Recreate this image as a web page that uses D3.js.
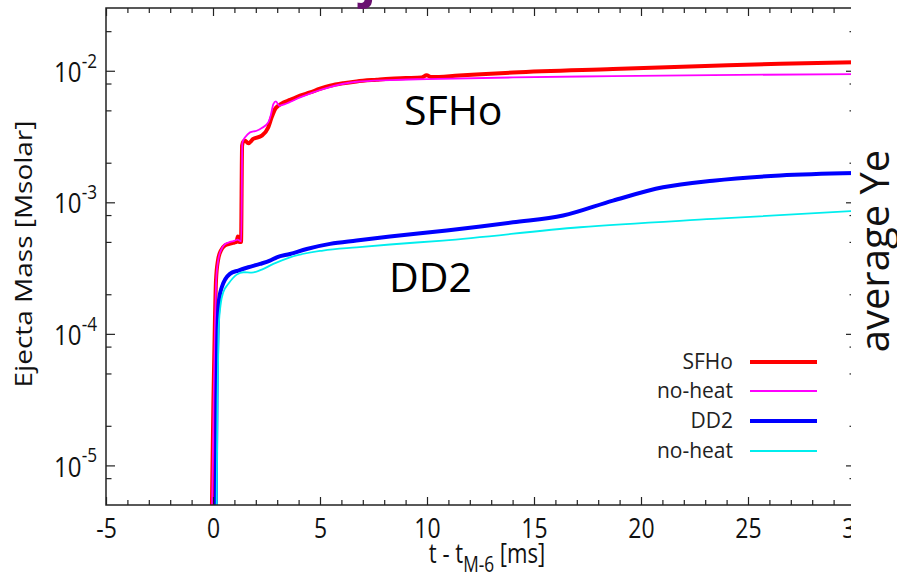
<!DOCTYPE html>
<html>
<head>
<meta charset="utf-8">
<script src="https://cdn.jsdelivr.net/npm/d3@7"></script>
<style>
  body { margin: 0; background: #fff; }
  svg { display: block; }
  text { font-family: "Open Sans", "Noto Sans", sans-serif; }
</style>
</head>
<body>
<svg id="chart" width="897" height="580"></svg>
<script>
// Ejecta mass histories (time in ms after t_M-6, mass in solar masses)
const sfhoTime = [-0.1, -0.05, 0.02, 0.09, 0.14, 0.23, 0.37, 0.56, 0.8, 1.0, 1.1, 1.16, 1.22, 1.31, 1.36, 1.42, 1.5, 1.65, 1.88, 2.28, 2.58, 2.74, 2.9, 3.05, 3.29, 3.6, 4.07, 4.53, 5.0, 5.47, 6.09, 6.71, 7.65, 8.27, 9.0, 9.75, 9.98, 10.2, 11.5, 14.02, 18.69, 23.36, 26.5, 30];
const sfhoMass = [2e-6, 5e-6, 3.1e-5, 1.26e-4, 2.55e-4, 3.6e-4, 4.3e-4, 4.7e-4, 4.85e-4, 4.95e-4, 5.0e-4, 5.5e-4, 5.0e-4, 5.0e-4, 2.7e-3, 2.9e-3, 2.94e-3, 2.81e-3, 3.03e-3, 3.21e-3, 3.71e-3, 4.42e-3, 5.11e-3, 5.42e-3, 5.74e-3, 6.0e-3, 6.46e-3, 6.84e-3, 7.3e-3, 7.7e-3, 8.05e-3, 8.3e-3, 8.55e-3, 8.7e-3, 8.8e-3, 8.9e-3, 9.25e-3, 8.95e-3, 9.2e-3, 9.7e-3, 1.03e-2, 1.09e-2, 1.13e-2, 1.16e-2];

const sfhoNoHeatTime = [-0.1, -0.04, 0.03, 0.1, 0.15, 0.24, 0.38, 0.56, 0.8, 1.0, 1.15, 1.25, 1.32, 1.37, 1.43, 1.5, 1.73, 2.04, 2.28, 2.58, 2.7, 2.82, 2.94, 3.1, 3.36, 4.07, 5.14, 6.71, 8.27, 10.0, 14.02, 18.69, 23.36, 30];
const sfhoNoHeatMass = [2e-6, 5e-6, 3.1e-5, 1.26e-4, 2.55e-4, 3.6e-4, 4.35e-4, 4.8e-4, 5.0e-4, 5.1e-4, 5.2e-4, 5.1e-4, 5.05e-4, 2.8e-3, 3.0e-3, 3.12e-3, 3.4e-3, 3.5e-3, 3.67e-3, 4.05e-3, 4.6e-3, 5.58e-3, 5.85e-3, 5.42e-3, 5.58e-3, 6.27e-3, 7.26e-3, 8.25e-3, 8.5e-3, 8.65e-3, 8.9e-3, 9.1e-3, 9.27e-3, 9.44e-3];

const dd2Time = [0.08, 0.126, 0.16, 0.21, 0.28, 0.41, 0.79, 1.18, 1.65, 2.2, 2.66, 2.98, 3.6, 4.38, 5.47, 6.71, 8.27, 10.92, 12.5, 14.02, 16.36, 18.69, 21.03, 23.36, 26.5, 30];
const dd2Mass = [2e-6, 5e-6, 3.1e-5, 1.06e-4, 1.8e-4, 2.26e-4, 2.86e-4, 3.03e-4, 3.21e-4, 3.4e-4, 3.6e-4, 3.82e-4, 4.05e-4, 4.42e-4, 4.83e-4, 5.12e-4, 5.49e-4, 6.1e-4, 6.55e-4, 7.05e-4, 7.93e-4, 1.03e-3, 1.3e-3, 1.46e-3, 1.6e-3, 1.67e-3];

const dd2NoHeatTime = [0.12, 0.17, 0.21, 0.26, 0.35, 0.48, 0.72, 1.11, 1.42, 1.81, 2.28, 2.82, 3.6, 5.14, 6.71, 8.27, 10.75, 17.15, 23.36, 30];
const dd2NoHeatMass = [2e-6, 5e-6, 3.1e-5, 1.06e-4, 1.64e-4, 2.07e-4, 2.4e-4, 2.82e-4, 2.94e-4, 2.92e-4, 3.08e-4, 3.4e-4, 3.82e-4, 4.3e-4, 4.55e-4, 4.78e-4, 5.12e-4, 6.46e-4, 7.48e-4, 8.6e-4];

const legendLabels = ["SFHo", "no-heat", "DD2", "no-heat"];
const xTickValues = [-5, 0, 5, 10, 15, 20, 25, 30];
const yTickExponents = [-2, -3, -4, -5];

// ---------------------------------------------------------------
const svg = d3.select("#chart");
const plot = { left: 106, right: 855, top: 8, bottom: 505 };

const x = d3.scaleLinear().domain([-5, 30]).range([plot.left, plot.right]);
const y = d3.scaleLog().domain([5e-6, 3e-2]).range([plot.bottom, plot.top]);

const series = [
  { t: sfhoTime, m: sfhoMass, color: "#ff0000", width: 4 },
  { t: sfhoNoHeatTime, m: sfhoNoHeatMass, color: "#ff00ff", width: 1.8 },
  { t: dd2Time, m: dd2Mass, color: "#0000ff", width: 4 },
  { t: dd2NoHeatTime, m: dd2NoHeatMass, color: "#00eeee", width: 1.8 }
];

svg.append("defs").append("clipPath").attr("id", "plotClip")
  .append("rect")
  .attr("x", plot.left).attr("y", plot.top)
  .attr("width", plot.right - plot.left).attr("height", plot.bottom - plot.top);

// Curves
const line = d3.line()
  .x(d => x(d[0]))
  .y(d => y(d[1]))
  .curve(d3.curveMonotoneX);

const curves = svg.append("g").attr("clip-path", "url(#plotClip)");
series.forEach(s => {
  curves.append("path")
    .datum(d3.zip(s.t, s.m))
    .attr("fill", "none")
    .attr("stroke", s.color)
    .attr("stroke-width", s.width)
    .attr("stroke-linejoin", "round")
    .attr("d", line);
});

// Axes: ticks point inward on all four sides
const axisColor = "#222";
const minorX = d3.range(-5, 31).filter(v => v % 5 !== 0);
const minorY = [];
[-6, -5, -4, -3, -2].forEach(e => [2, 5, 8].forEach(k => {
  const v = k * Math.pow(10, e);
  if (v >= 5e-6 && v <= 3e-2) minorY.push(v);
}));
const majorY = yTickExponents.map(e => Math.pow(10, e));

function styleAxis(g) {
  g.select(".domain").remove();
  g.selectAll(".tick line").attr("stroke", axisColor).attr("stroke-width", 1.2);
}

// Bottom tick labels: narrow set digits, plain hyphen for negatives
svg.append("g").attr("transform", `translate(0,${plot.bottom})`)
  .call(d3.axisBottom(x).tickValues(xTickValues).tickSize(-8).tickSizeOuter(0).tickFormat(""))
  .call(styleAxis)
  .call(g => g.selectAll(".tick").append("text")
    .attr("y", 33).attr("text-anchor", "middle")
    .attr("transform", "scale(0.82,1)")
    .attr("font-size", 28).attr("fill", "#111")
    .text(d => String(d)));
svg.append("g").attr("transform", `translate(0,${plot.bottom})`)
  .call(d3.axisBottom(x).tickValues(minorX).tickSize(-5).tickFormat(""))
  .call(styleAxis);
svg.append("g").attr("transform", `translate(0,${plot.top})`)
  .call(d3.axisTop(x).tickValues(xTickValues).tickSize(-8).tickFormat(""))
  .call(styleAxis);
svg.append("g").attr("transform", `translate(0,${plot.top})`)
  .call(d3.axisTop(x).tickValues(minorX).tickSize(-5).tickFormat(""))
  .call(styleAxis);

svg.append("g").attr("transform", `translate(${plot.left},0)`)
  .call(d3.axisLeft(y).tickValues(majorY).tickSize(-9).tickFormat(""))
  .call(styleAxis)
  .call(g => g.selectAll(".tick").each(function (d) {
    const t = d3.select(this).append("text")
      .attr("transform", "translate(-9,0) scale(0.86,1)")
      .attr("dy", "0.38em").attr("text-anchor", "end")
      .attr("fill", "#111").attr("font-size", 28);
    t.append("tspan").text("10");
    t.append("tspan").attr("font-size", 20).attr("dy", "-0.72em")
      .text(String(Math.round(Math.log10(d))));
  }));
svg.append("g").attr("transform", `translate(${plot.left},0)`)
  .call(d3.axisLeft(y).tickValues(minorY).tickSize(-5.5).tickFormat(""))
  .call(styleAxis);
svg.append("g").attr("transform", `translate(${plot.right},0)`)
  .call(d3.axisRight(y).tickValues(majorY).tickSize(-9).tickFormat(""))
  .call(styleAxis);
svg.append("g").attr("transform", `translate(${plot.right},0)`)
  .call(d3.axisRight(y).tickValues(minorY).tickSize(-5.5).tickFormat(""))
  .call(styleAxis);

// Frame
svg.append("rect")
  .attr("x", plot.left).attr("y", plot.top)
  .attr("width", plot.right - plot.left).attr("height", plot.bottom - plot.top)
  .attr("fill", "none").attr("stroke", axisColor).attr("stroke-width", 1.5);

// Axis titles
const xTitle = svg.append("text")
  .attr("transform", "translate(487,563) scale(0.82,1)")
  .attr("text-anchor", "middle")
  .attr("font-size", 27).attr("fill", "#111");
xTitle.append("tspan").text("t - t");
xTitle.append("tspan").attr("font-size", 21).attr("dy", 9).text("M-6");
xTitle.append("tspan").attr("dy", -9).text(" [ms]");

svg.append("text")
  .attr("transform", "translate(32,254) scale(0.85,1) rotate(-90)")
  .attr("text-anchor", "middle").attr("font-size", 28).attr("fill", "#111")
  .text("Ejecta Mass [Msolar]");

// Curve annotations
svg.append("text").attr("x", 404).attr("y", 125)
  .attr("font-size", 41).attr("fill", "#000").text("SFHo");
svg.append("text").attr("x", 389).attr("y", 292)
  .attr("font-size", 41).attr("fill", "#000").text("DD2");

// Legend
const legendY = [362, 391, 421, 451];
const legend = svg.append("g");
series.forEach((s, i) => {
  legend.append("text")
    .attr("x", 733).attr("y", legendY[i]).attr("dy", "0.35em")
    .attr("text-anchor", "end").attr("font-size", 21).attr("fill", "#222")
    .text(legendLabels[i]);
  legend.append("line")
    .attr("x1", 750).attr("x2", 817)
    .attr("y1", legendY[i]).attr("y2", legendY[i])
    .attr("stroke", s.color).attr("stroke-width", s.width);
});

// Right-hand strip: neighbouring panel's axis title
svg.append("rect").attr("x", 851).attr("y", 0).attr("width", 46).attr("height", 580).attr("fill", "#fff");
svg.append("text")
  .attr("transform", "translate(889,251) rotate(-90)")
  .attr("text-anchor", "middle").attr("font-size", 40).attr("fill", "#111")
  .text("average Ye");

// Panel heading, clipped at the top edge
svg.append("text")
  .attr("x", 478).attr("y", -3).attr("text-anchor", "middle")
  .attr("font-size", 50).attr("font-weight", "bold").attr("fill", "#6a1070")
  .text("Ejecta Mass");
</script>
</body>
</html>
